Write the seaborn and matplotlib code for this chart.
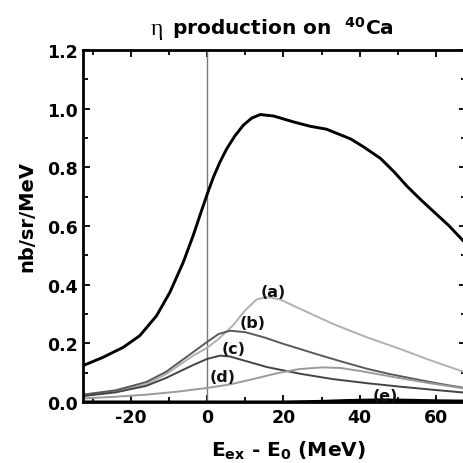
import matplotlib
matplotlib.use("Agg")
import matplotlib.pyplot as plt
import seaborn as sns
import numpy as np
import pandas as pd
from matplotlib.ticker import MultipleLocator

# ── data ───────────────────────────────────────────────────────────
total_x = [-32.6, -27.4, -22.1, -17.7, -13.3, -9.8, -6.3, -3.7, -1.5, 0, 1.6, 3.3,
           5.1, 7.3, 9.5, 11.7, 13.9, 17.4, 22.6, 27, 31.3, 37.6, 41, 45.5, 49, 52.4,
           56, 59.5, 63.5, 67.5]
total_y = [0.124, 0.152, 0.186, 0.226, 0.294, 0.374, 0.476, 0.567, 0.652, 0.709, 0.766,
           0.817, 0.863, 0.908, 0.944, 0.968, 0.98, 0.975, 0.955, 0.94, 0.93, 0.897,
           0.87, 0.83, 0.785, 0.736, 0.69, 0.648, 0.60, 0.545]

a_x = [-32.6, -24, -16, -10.8, -3.7, 0, 3, 6.8, 10, 13, 15.7, 19, 24.5, 33, 42, 50.8, 59, 67.5]
a_y = [0.025, 0.038, 0.06, 0.095, 0.158, 0.185, 0.215, 0.262, 0.313, 0.35, 0.358, 0.35,
       0.317, 0.266, 0.22, 0.18, 0.14, 0.102]

b_x = [-32.6, -24, -16, -10.8, -3.7, 0, 3, 6, 10, 15, 20, 24.5, 30, 36, 42, 48, 55, 61, 67.5]
b_y = [0.025, 0.04, 0.068, 0.103, 0.17, 0.205, 0.232, 0.243, 0.238, 0.22, 0.198, 0.18,
       0.158, 0.135, 0.113, 0.095, 0.077, 0.062, 0.048]

c_x = [-32.6, -24, -16, -10.8, -3.7, 0, 3.4, 6, 10, 15.7, 24.5, 33, 42, 50.8, 59, 67.5]
c_y = [0.02, 0.033, 0.055, 0.082, 0.126, 0.147, 0.158, 0.155, 0.14, 0.119, 0.096, 0.078,
       0.064, 0.052, 0.042, 0.032]

d_x = [-32.6, -24, -16, -8, 0, 6, 12, 18, 24, 30, 35, 40, 46, 52, 58, 63, 67.5]
d_y = [0.012, 0.018, 0.025, 0.035, 0.048, 0.06, 0.078, 0.097, 0.112, 0.118, 0.116, 0.106,
       0.092, 0.078, 0.065, 0.055, 0.046]

e_x = [-32.6, 20, 30, 37, 45, 52, 60, 67.5]
e_y = [0.0, 0.0, 0.002, 0.005, 0.007, 0.006, 0.004, 0.003]

labels = ["(a)", "(b)", "(c)", "(d)", "(e)"]
label_x = [17.4, 12.0, 6.8, 4.0, 46.8]
label_y = [0.378, 0.272, 0.182, 0.086, 0.022]

# ── style ──────────────────────────────────────────────────────────
sns.set_style("ticks")
plt.rcParams["font.family"] = ["DejaVu Sans"]
plt.rcParams["font.weight"] = "bold"
plt.rcParams["text.color"] = "black"
plt.rcParams["axes.labelcolor"] = "black"
plt.rcParams["axes.edgecolor"] = "black"
plt.rcParams["xtick.color"] = "black"
plt.rcParams["ytick.color"] = "black"
plt.rcParams["axes.unicode_minus"] = False
plt.rcParams["mathtext.fontset"] = "custom"
plt.rcParams["mathtext.rm"] = "DejaVu Sans:bold"
plt.rcParams["mathtext.bf"] = "DejaVu Sans:bold"

fig = plt.figure(figsize=(4.63, 4.64), dpi=100)
ax = fig.add_axes([83 / 463, 1 - 403 / 464, (466 - 83) / 463, (403 - 51) / 464])

ax.axvline(0, color="#777777", lw=1.0, zorder=1)

curves = [
    (total_x, total_y, "black", 2.1),
    (a_x, a_y, "#b0b0b0", 1.4),
    (b_x, b_y, "#5a5a5a", 1.4),
    (c_x, c_y, "#444444", 1.4),
    (d_x, d_y, "#9a9a9a", 1.4),
    (e_x, e_y, "black", 2.2),
]
for xs, ys, col, lw in curves:
    df = pd.DataFrame({"E": xs, "sigma": ys})
    sns.lineplot(data=df, x="E", y="sigma", ax=ax, color=col, lw=lw, sort=True)

for lab, lx, ly in zip(labels, label_x, label_y):
    ax.text(lx, ly, lab, ha="center", va="center", fontsize=11.5, fontweight="bold",
            color="#111111")

ax.set_xlim(-32.6, 67.9)
ax.set_ylim(0, 1.2)
ax.xaxis.set_major_locator(MultipleLocator(20))
ax.xaxis.set_minor_locator(MultipleLocator(10))
ax.yaxis.set_major_locator(MultipleLocator(0.2))
ax.yaxis.set_minor_locator(MultipleLocator(0.1))
ax.set_yticklabels([f"{v:.1f}" for v in ax.get_yticks()])
ax.tick_params(which="both", direction="in", top=True, right=True, width=1.3)
ax.tick_params(which="major", length=5, labelsize=12.5, pad=4)
ax.tick_params(which="minor", length=3.5)
for lab in ax.get_xticklabels() + ax.get_yticklabels():
    lab.set_fontweight("bold")
for s in ax.spines.values():
    s.set_linewidth(2.0)

ax.set_xlabel(r"E$_{\mathbf{ex}}$ - E$_{\mathbf{0}}$ (MeV)", fontsize=14.5,
              fontweight="bold")
ax.xaxis.set_label_coords(0.535, -0.105)
ax.set_ylabel("nb/sr/MeV", fontsize=14, fontweight="bold")
ax.yaxis.set_label_coords(-0.121, 0.53)
ax.set_title(r"production on  $^{\mathbf{40}}$Ca", fontsize=14.5,
             fontweight="bold", pad=12, x=0.522)
fig.text(157 / 463, 1 - 35 / 464, "η", ha="center", va="baseline",
         family="Liberation Serif", fontweight="normal", fontsize=17)

fig.savefig("out.png", dpi=100)
